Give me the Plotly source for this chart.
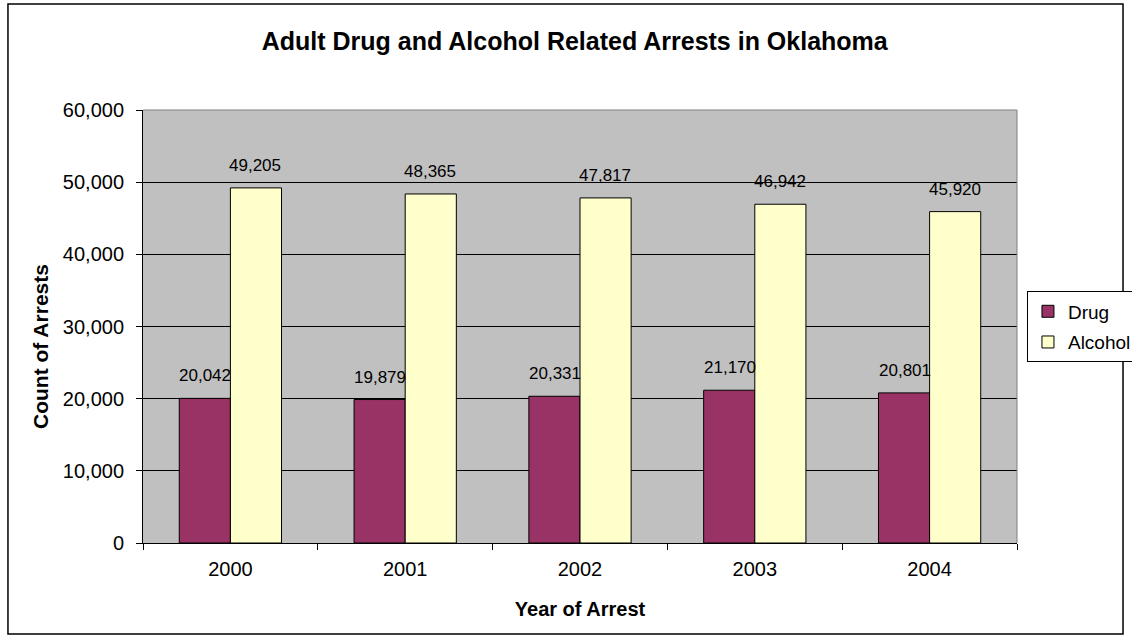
import plotly.graph_objects as go

years = ["2000", "2001", "2002", "2003", "2004"]
drug = [20042, 19879, 20331, 21170, 20801]
alcohol = [49205, 48365, 47817, 46942, 45920]
y_ticks = [0, 10000, 20000, 30000, 40000, 50000, 60000]

FONT = "Liberation Sans, Arial, sans-serif"

fig = go.Figure()
fig.add_trace(go.Bar(name="Drug", x=years, y=drug, legendgroup="d",
                     marker=dict(color="#993366", line=dict(color="black", width=1))))
fig.add_trace(go.Bar(name="Alcohol", x=years, y=alcohol, legendgroup="a",
                     marker=dict(color="#FFFFCC", line=dict(color="black", width=1))))

annotations = []
for i, (d, a) in enumerate(zip(drug, alcohol)):
    # category index i on the category axis
    annotations.append(dict(x=i, y=d, xref="x", yref="y", text=f"{d:,}", showarrow=False,
                            xshift=-25, yshift=11, yanchor="bottom", font=dict(family=FONT, size=17, color="black")))
    annotations.append(dict(x=i, y=a, xref="x", yref="y", text=f"{a:,}", showarrow=False,
                            xshift=25, yshift=11, yanchor="bottom", font=dict(family=FONT, size=17, color="black")))

# y-axis title
annotations.append(dict(x=-0.1167, y=0.4527, xref="paper", yref="paper", text="<b>Count of Arrests</b>",
                        textangle=-90, showarrow=False, xanchor="center", yanchor="middle",
                        font=dict(family=FONT, size=21, color="black")))

fig.update_layout(
    width=1132, height=644,
    margin=dict(l=143, r=115, t=110, b=101, autoexpand=False),
    paper_bgcolor="white", plot_bgcolor="#C0C0C0",
    font=dict(family=FONT, size=19, color="black"),
    barmode="group", bargap=0.415, bargroupgap=0,
    title=dict(text="<b>Adult Drug and Alcohol Related Arrests in Oklahoma</b>", x=0.494, xref="paper",
               y=1 - 41 / 644, yanchor="middle", font=dict(family=FONT, size=25, color="black")),
    legend=dict(x=1.0114, y=0.499, xanchor="left", yanchor="middle", bordercolor="black", borderwidth=1,
                bgcolor="white", font=dict(family=FONT, size=19), tracegroupgap=3, itemwidth=30),
    annotations=annotations,
    shapes=[
        dict(type="rect", xref="paper", yref="paper", x0=-0.1545, x1=1.1213, y0=-0.2102, y1=1.2448,
             line=dict(color="black", width=1.5), layer="below"),
        dict(type="line", xref="paper", yref="paper", x0=0, x1=1, y0=1, y1=1, line=dict(color="#808080", width=1), layer="above"),
        dict(type="line", xref="paper", yref="paper", x0=1, x1=1, y0=0, y1=1, line=dict(color="#808080", width=1), layer="above"),
    ],
)
fig.update_xaxes(
    type="category", range=[-0.5, len(years) - 0.5],
    title=dict(text="<b>Year of Arrest</b>", font=dict(family=FONT, size=20), standoff=22),
    showline=True, linecolor="black", linewidth=1, tickson="boundaries", ticks="outside", ticklen=6,
    tickcolor="black", showgrid=False, tickfont=dict(family=FONT, size=20), ticklabelstandoff=8,
)
fig.update_yaxes(
    range=[0, 60000], tickvals=y_ticks, tickformat=",", showline=True, linecolor="black", linewidth=1,
    ticks="outside", ticklen=6, tickcolor="black", showgrid=True, gridcolor="black", gridwidth=1,
    zeroline=False, tickfont=dict(family=FONT, size=20), ticklabelstandoff=8,
)

fig.write_html("out.html", config={"displayModeBar": False},
               post_script="document.body.style.margin='0px';")
